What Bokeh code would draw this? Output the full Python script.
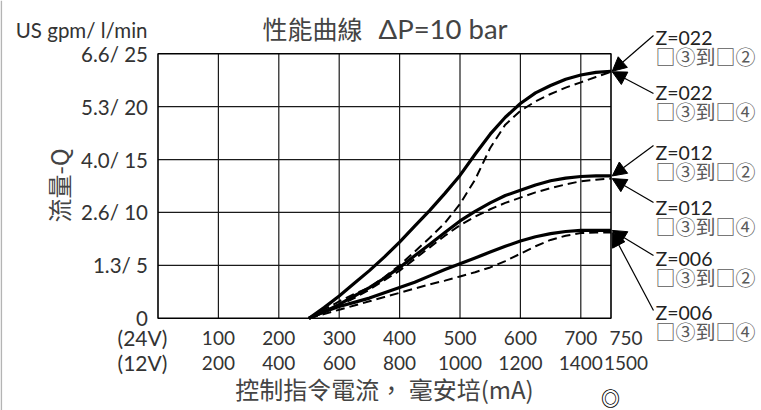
from bokeh.plotting import figure
from bokeh.models import Label, Arrow, NormalHead, Range1d
from bokeh.core.properties import value
from bokeh.embed import file_html
from bokeh.resources import INLINE

# ---- data ----
current_24v = [250, 275, 300, 325, 350, 375, 400, 425, 450, 475, 500, 525, 550, 575, 600, 625, 650, 675, 700, 725, 750]
z022_p3_p2 = [0, 1.0, 2.1, 3.3, 4.5, 5.8, 7.2, 8.7, 10.2, 11.8, 13.5, 15.5, 17.4, 19.0, 20.3, 21.3, 22.0, 22.6, 23.0, 23.25, 23.35]
z022_p3_p4 = [0, 0.8, 1.6, 2.3, 2.9, 3.9, 5.0, 6.3, 7.6, 9.0, 10.8, 13.1, 16.1, 18.3, 19.6, 20.5, 21.2, 21.8, 22.3, 22.8, 23.3]
z012_p3_p2 = [0, 0.6, 1.3, 2.1, 2.9, 3.8, 4.8, 5.9, 7.0, 8.1, 9.2, 10.1, 10.9, 11.6, 12.1, 12.6, 13.0, 13.25, 13.4, 13.45, 13.45]
z012_p3_p4 = [0, 0.6, 1.2, 1.9, 2.7, 3.6, 4.5, 5.6, 6.7, 7.8, 8.8, 9.6, 10.3, 10.9, 11.4, 11.9, 12.3, 12.65, 12.95, 13.1, 13.2]
z006_p3_p2 = [0, 0.6, 1.1, 1.5, 1.9, 2.4, 2.9, 3.4, 4.0, 4.6, 5.15, 5.7, 6.25, 6.8, 7.3, 7.7, 8.0, 8.2, 8.3, 8.3, 8.3]
z006_p3_p4 = [0, 0.4, 0.8, 1.2, 1.6, 2.0, 2.4, 2.8, 3.2, 3.55, 3.95, 4.35, 4.8, 5.4, 6.1, 6.8, 7.4, 7.8, 8.05, 8.1, 8.1]

x_ticks = [100, 200, 300, 400, 500, 600, 700, 750]
x_labels_24v = ["100", "200", "300", "400", "500", "600", "700", "750"]
x_labels_12v = ["200", "400", "600", "800", "1000", "1200", "1400", "1500"]
y_ticks = [0, 5, 10, 15, 20, 25]
y_labels = ["0", "1.3/ 5", "2.6/ 10", "4.0/ 15", "5.3/ 20", "6.6/ 25"]

series = [
    ("Z=022", "□③到□②", z022_p3_p2, "solid"),
    ("Z=022", "□③到□④", z022_p3_p4, "dashed"),
    ("Z=012", "□③到□②", z012_p3_p2, "solid"),
    ("Z=012", "□③到□④", z012_p3_p4, "dashed"),
    ("Z=006", "□③到□②", z006_p3_p2, "solid"),
    ("Z=006", "□③到□④", z006_p3_p4, "dashed"),
]

LATIN = "Lato"
CJK = "Noto Sans CJK TC"
TXT = "#333333"

# chart box in canvas px: left 157.5, right 610.5, top 53.3, bottom 317.7
PX_X = 0.604      # px per mA
PX_Y = 10.576     # px per l/min

def dx(sx):
    return (sx - 157.5) / PX_X

def dy(sy):
    return (317.7 - sy) / PX_Y

W, H = 761, 410
p = figure(width=W, height=H, min_border=0,
           x_range=Range1d(dx(0), dx(W)), y_range=Range1d(dy(H), dy(0)),
           output_backend="svg", toolbar_location=None,
           x_axis_location=None, y_axis_location=None)
p.outline_line_color = None
p.grid.visible = False
p.background_fill_color = "white"
p.border_fill_color = "white"

x0, x1 = 0, 750
y0, y1 = 0, 25

# thin page border at the far left
p.segment(x0=[dx(0.8)], y0=[dy(0)], x1=[dx(0.8)], y1=[dy(H)], line_color="#b4b4b4", line_width=1.6)

# grid lines
gx = x_ticks[:-1]
p.segment(x0=gx, y0=[y0] * len(gx), x1=gx, y1=[y1] * len(gx), line_color="#1a1a1a", line_width=1.2)
gy = y_ticks[1:-1]
p.segment(x0=[x0] * len(gy), y0=gy, x1=[x1] * len(gy), y1=gy, line_color="#1a1a1a", line_width=1.2)
# frame box
p.quad(left=[x0], right=[x1], bottom=[y0], top=[y1], fill_color=None, line_color="black", line_width=1.6)

# tick labels
p.text(x=[x0 - 10 / PX_X] * len(y_ticks), y=y_ticks, text=y_labels,
       text_font=value(LATIN), text_font_size=value("20.5px"), text_color=TXT,
       text_align="right", text_baseline="middle")
shift = [0] * (len(x_ticks) - 1) + [15 / PX_X]
xl = [t + s for t, s in zip(x_ticks, shift)]
p.text(x=xl, y=[dy(337)] * len(x_ticks), text=x_labels_24v,
       text_font=value(LATIN), text_font_size=value("19px"), text_color=TXT,
       text_align="center", text_baseline="middle")
p.text(x=xl, y=[dy(362)] * len(x_ticks), text=x_labels_12v,
       text_font=value(LATIN), text_font_size=value("19px"), text_color=TXT,
       text_align="center", text_baseline="middle")

# curves
for name, port, vals, style in series:
    if style == "solid":
        p.line(current_24v, vals, line_color="black", line_width=3.2)
    else:
        p.line(current_24v, vals, line_color="black", line_width=2.0, line_dash="9 5")

# right-side labels + arrows
z_rows = [36.5, 92, 152, 207, 258, 312]
tails = [35, 93, 145, 202, 255, 310]
for i, (name, port, vals, style) in enumerate(series):
    p.add_layout(Label(x=dx(655), y=dy(z_rows[i]), text=name, text_font=LATIN,
                       text_font_size="19.5px", text_color="#222222",
                       text_align="left", text_baseline="middle"))
    p.add_layout(Label(x=dx(655), y=dy(z_rows[i] + 19), text=port, text_font=CJK,
                       text_font_size="20px", text_color="#5a5a5a",
                       text_align="left", text_baseline="middle"))
    p.add_layout(Arrow(end=NormalHead(size=14, fill_color="black", line_color="black"),
                       x_start=dx(653), y_start=dy(tails[i]),
                       x_end=current_24v[-1] + 2, y_end=vals[-1],
                       line_color="black", line_width=1.2))

# other texts
p.add_layout(Label(x=dx(147), y=dy(29.5), text="US gpm/ l/min", text_font=LATIN,
                   text_font_size="20.5px", text_color=TXT, text_align="right", text_baseline="middle"))
p.add_layout(Label(x=dx(262), y=dy(27), text="性能曲線", text_font=CJK,
                   text_font_size="25px", text_color="#444444", text_align="left", text_baseline="middle"))
p.add_layout(Label(x=dx(378), y=dy(28), text="ΔP=10 bar", text_font=LATIN,
                   text_font_size="27.5px", text_color="#444444", text_align="left", text_baseline="middle"))
p.add_layout(Label(x=dx(58), y=dy(185), text="流量-Q", text_font=CJK, angle=1.5708,
                   text_font_size="24px", text_color="#444444", text_align="center", text_baseline="middle"))
p.add_layout(Label(x=dx(142), y=dy(337), text="(24V)", text_font=LATIN,
                   text_font_size="21px", text_color=TXT, text_align="center", text_baseline="middle"))
p.add_layout(Label(x=dx(142), y=dy(362), text="(12V)", text_font=LATIN,
                   text_font_size="21px", text_color=TXT, text_align="center", text_baseline="middle"))
p.add_layout(Label(x=dx(384), y=dy(388), text="控制指令電流， 毫安培(mA)", text_font=CJK,
                   text_font_size="24px", text_color="#444444", text_align="center", text_baseline="middle"))
p.add_layout(Label(x=dx(610), y=dy(397), text="◎", text_font=CJK,
                   text_font_size="19px", text_color="black", text_align="center", text_baseline="middle",
                   text_font_style="bold"))

open("out.html", "w").write(file_html(p, INLINE))
